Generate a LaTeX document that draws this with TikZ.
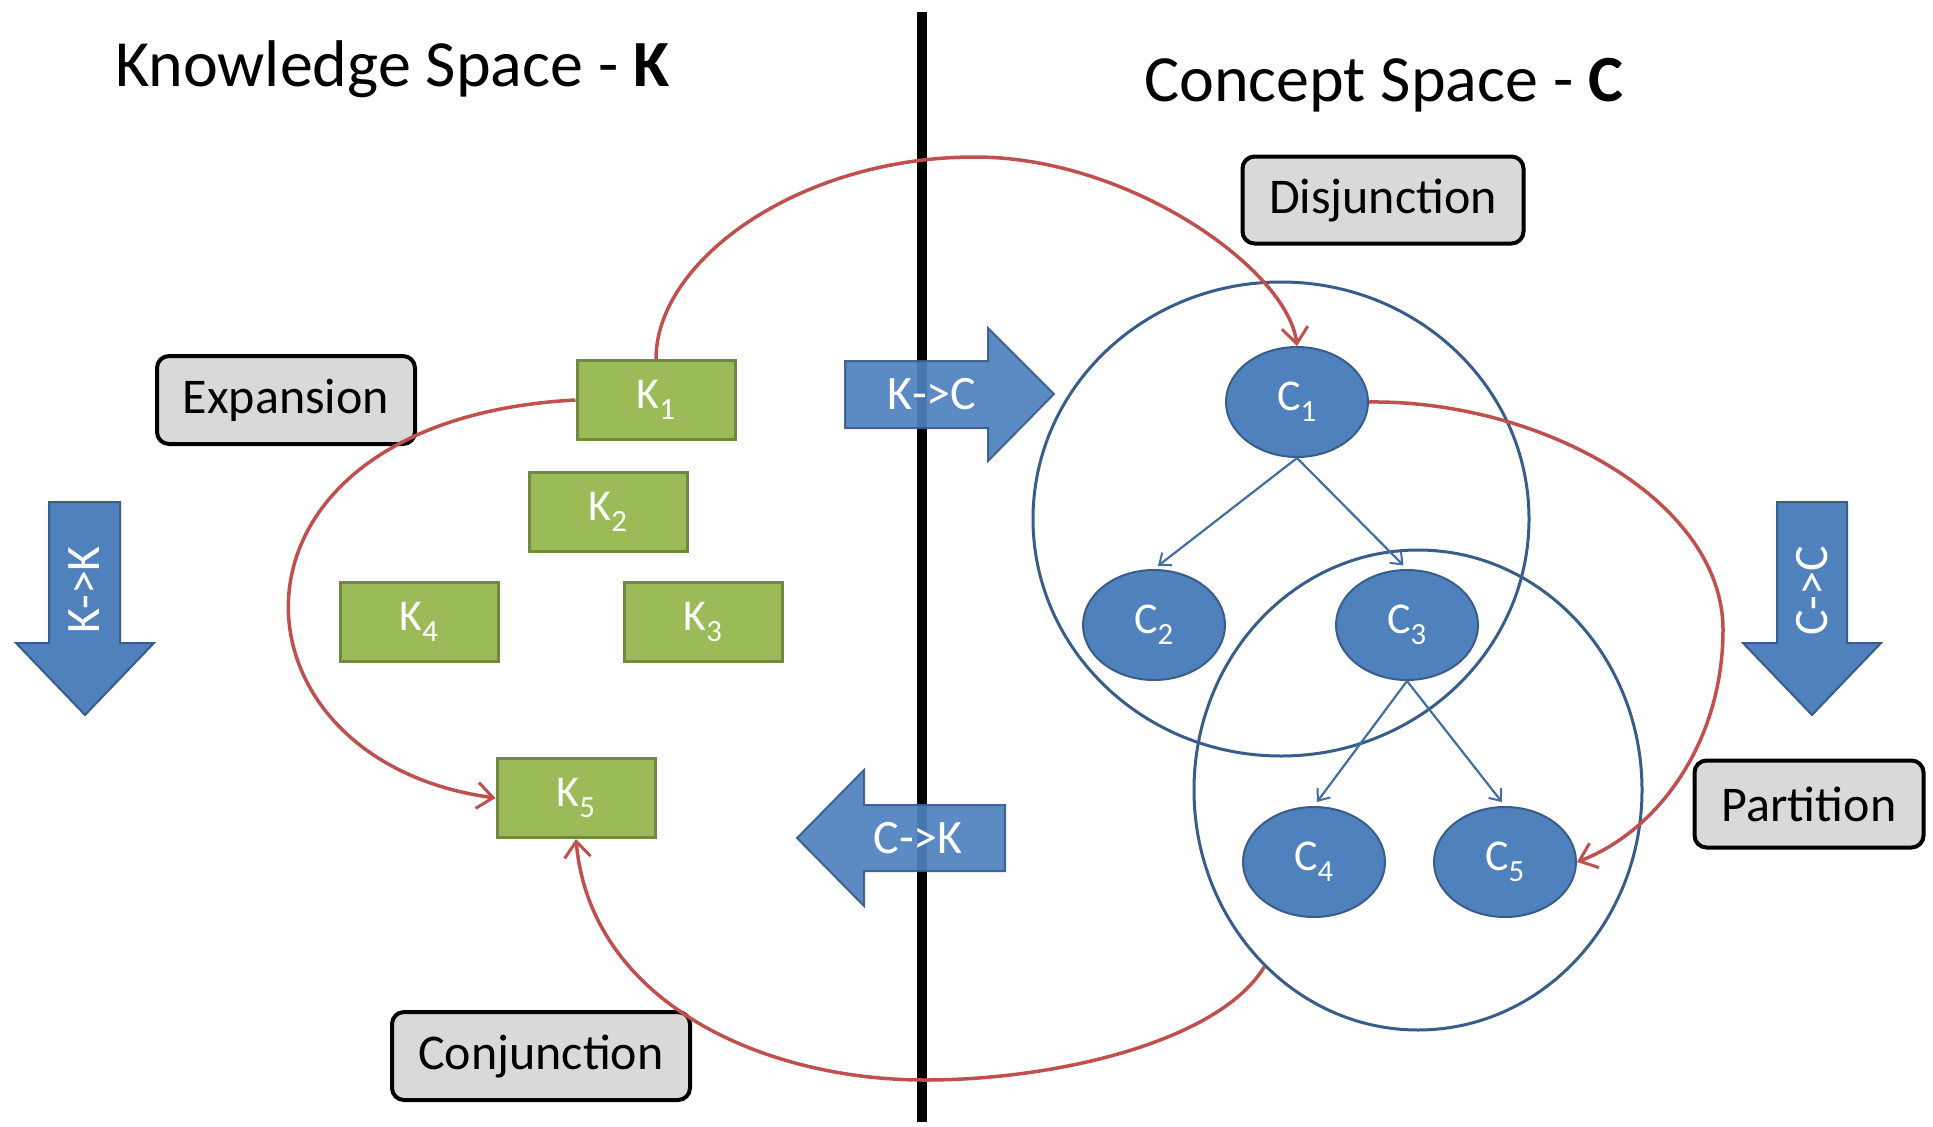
\documentclass[tikz,border=0pt]{standalone}
\usepackage{fontspec}
\setmainfont{Carlito}
\usetikzlibrary{shapes.geometric,arrows.meta}
\definecolor{kgreen}{HTML}{9BBB59}
\definecolor{kgreenD}{HTML}{71893F}
\definecolor{cblue}{HTML}{4F81BD}
\definecolor{cblueD}{HTML}{385D8A}
\definecolor{rline}{HTML}{C0504D}
\definecolor{lgray}{HTML}{D9D9D9}
\begin{document}
\begin{tikzpicture}[x=1pt,y=-1pt,
  kbox/.style={draw=kgreenD, fill=kgreen, line width=3pt, minimum width=158pt, minimum height=79pt, inner sep=0pt, text=white, font=\fontsize{44}{48}\selectfont},
  cnode/.style={ellipse, draw=cblueD, fill=cblue, line width=2pt, minimum width=142pt, minimum height=110pt, inner sep=0pt, text=white, font=\fontsize{44}{48}\selectfont},
  bigring/.style={ellipse, draw=cblueD, line width=3pt, inner sep=0pt},
  lbl/.style={draw=black, fill=lgray, line width=4pt, rounded corners=12pt, inner sep=0pt, font=\fontsize{50}{54}\selectfont},
  bluearrow/.style={fill=cblue, draw=cblueD, line width=2pt},
  arrowtext/.style={text=white, font=\fontsize{48}{52}\selectfont, inner sep=0pt},
  redcurve/.style={draw=rline, line width=3.5pt, -{Straight Barb[length=16pt,width=26pt,line width=3pt]}},
  tree/.style={draw=cblue!85!black, line width=2.2pt, shorten >=5pt, -{Straight Barb[length=10pt,width=16pt,line width=2pt]}},
  title/.style={font=\fontsize{66}{70}\selectfont, anchor=base west, inner sep=0pt}
]
\useasboundingbox (0,0) rectangle (1933,1127);
\fill[white] (0,0) rectangle (1933,1127);

% titles
\node[title] (tk) at (115,86) {Knowledge Space - \textbf{K}};
\node[title] (tc) at (1144,101) {Concept Space - \textbf{C}};

% divider
\coordinate (ltop) at (922,12);
\coordinate (lbot) at (922,1122);
\draw[line width=10pt] (ltop) -- (lbot);

% big rings
\node[bigring, minimum width=496pt, minimum height=474pt] (S1) at (1281,519) {};
\node[bigring, minimum width=448pt, minimum height=480pt] (S2) at (1418,790) {};

% block arrows
\fill[bluearrow, opacity=0.92] (845,361) -- (988,361) -- (988,328) -- (1054,394) -- (988,461) -- (988,428) -- (845,428) -- cycle;
\node[arrowtext] (kc) at (932,394) {K->C};
\fill[bluearrow, opacity=0.92] (1005,805) -- (864,805) -- (864,770) -- (797,838) -- (864,906) -- (864,871) -- (1005,871) -- cycle;
\node[arrowtext] (ck) at (918,838) {C->K};
\fill[bluearrow] (49,502) -- (120,502) -- (120,643) -- (154,643) -- (85,715) -- (16,643) -- (49,643) -- cycle;
\node[arrowtext, rotate=90] (kk) at (84,590) {K->K};
\fill[bluearrow] (1777,502) -- (1847,502) -- (1847,643) -- (1881,643) -- (1812,715) -- (1743,643) -- (1777,643) -- cycle;
\node[arrowtext, rotate=90] (cc) at (1812,591) {C->C};

% K boxes
\node[kbox] (K1) at (656,400) {K\textsubscript{1}};
\node[kbox] (K2) at (608,512) {K\textsubscript{2}};
\node[kbox] (K4) at (419,622) {K\textsubscript{4}};
\node[kbox] (K3) at (703,622) {K\textsubscript{3}};
\node[kbox] (K5) at (576,798) {K\textsubscript{5}};

% C nodes
\node[cnode] (C1) at (1297,402) {C\textsubscript{1}};
\node[cnode] (C2) at (1154,625) {C\textsubscript{2}};
\node[cnode] (C3) at (1407,625) {C\textsubscript{3}};
\node[cnode] (C4) at (1314,862) {C\textsubscript{4}};
\node[cnode] (C5) at (1505,862) {C\textsubscript{5}};

% tree arrows
\draw[tree] (C1.south) -- (C2.north);
\draw[tree] (C1.south) -- (C3.north);
\draw[tree] (C3.south) -- (C4.north);
\draw[tree] (C3.south) -- (C5.north);

% labels
\node[lbl, minimum width=281pt, minimum height=87pt] (dis) at (1383,200) {Disjunction};
\node[lbl, minimum width=258pt, minimum height=88pt] (exp) at (286,400) {Expansion};
\node[lbl, minimum width=229pt, minimum height=87pt] (par) at (1809,804) {Partition};
\node[lbl, minimum width=298pt, minimum height=88pt] (con) at (541,1056) {Conjunction};

% red curves
\coordinate (dmid) at (975,157);
\draw[redcurve] (K1.north) .. controls (656,260) and (800,157) .. (dmid) .. controls (1130,157) and (1288,270) .. (C1.north);
\draw[redcurve] (K1.west) .. controls (200,420) and (215,760) .. (K5.west);
\coordinate (pmid) at (1723,630);
\draw[redcurve] (C1.east) .. controls (1540,400) and (1723,500) .. (pmid) .. controls (1723,740) and (1660,830) .. (C5.east);
\coordinate (cmid) at (925,1080);
\draw[redcurve] (S2.229) .. controls (1220,1040) and (1060,1080) .. (cmid) .. controls (760,1080) and (590,1000) .. (K5.south);
\end{tikzpicture}
\end{document}
